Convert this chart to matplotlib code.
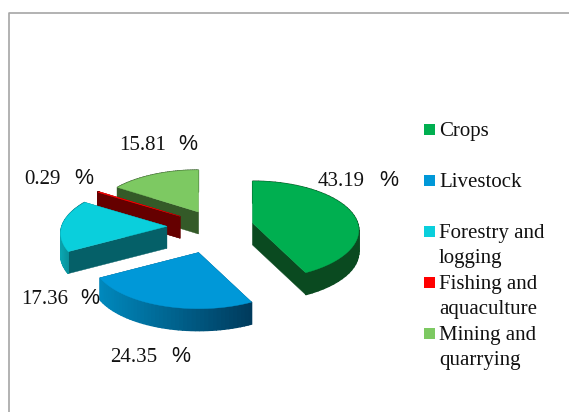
import numpy as np
import matplotlib
matplotlib.use("Agg")
import matplotlib.pyplot as plt
from matplotlib.patches import Polygon, Rectangle

# Data
categories = ["Crops", "Livestock", "Forestry and\nlogging", "Fishing and\naquaculture", "Mining and\nquarrying"]
values = [43.19, 24.35, 17.36, 0.29, 15.81]
explode = [0.37, 0.48, 0.47, 0.44, 0.40]

# Style
top_colors = ["#00AF50", "#0098D8", "#0ACFDC", "#FF0000", "#7DC962"]
edge_colors = ["#0A4A20", "#00507A", "#056068", "#650000", "#345A28"]
wall_left = ["#0A4A20", "#0088BC", "#0AA5B0", "#650000", "#345A28"]
wall_right = ["#0A4A20", "#003A5C", "#056068", "#650000", "#345A28"]
legend_y = [129, 180, 231, 282, 333]
label_pos = [(318, 181, 379), (110, 357, 171), (21, 299, 80), (24, 179, 74), (119, 145, 178)]

W, H = 569, 412
CX, CY = 216, 227
RX, RY, PERSP = 105, 48, 0.145
DEPTH = 22
SERIF = "Liberation Serif"
SANS = "Liberation Sans"


def proj(theta):
    """Clockwise angle from 12 o'clock to an offset on the tilted pie."""
    v = -np.cos(theta)
    s = 1 / (1 - PERSP * v)
    return RX * np.sin(theta) * s, RY * v * s


def mix(a, b, t):
    ca, cb = np.array(matplotlib.colors.to_rgb(a)), np.array(matplotlib.colors.to_rgb(b))
    return tuple(ca + (cb - ca) * t)


fig = plt.figure(figsize=(W / 100, H / 100), dpi=100)
ax = fig.add_axes([0, 0, 1, 1])
ax.set_xlim(0, W)
ax.set_ylim(H, 0)
ax.axis("off")

# Chart frame: top and left borders only are visible in the crop
ax.plot([9.5, 9.5, W], [H, 12.5, 12.5], color="#A6A6A6", lw=1.2, solid_capstyle="butt")

fractions = np.array(values) / np.sum(values)
bounds = np.concatenate([[0], np.cumsum(fractions)]) * 2 * np.pi

order = [4, 3, 0, 2, 1]
for i in order:
    a0, a1 = bounds[i], bounds[i + 1]
    mid = (a0 + a1) / 2
    mx, my = proj(mid)
    ax0, ay0 = CX + explode[i] * mx, CY + explode[i] * my
    th = np.linspace(a0, a1, 45)
    pts = np.array([proj(t) for t in th]) + [ax0, ay0]
    z = 2 + order.index(i) * 3
    # radial walls
    for p in (pts[0], pts[-1]):
        ax.add_patch(Polygon([(ax0, ay0), p, p + [0, DEPTH], (ax0, ay0 + DEPTH)],
                             fc=edge_colors[i], ec=edge_colors[i], lw=0.3, zorder=z))
    # outer wall, shaded left to right; segments overlap so no seams show
    xmin, xmax = pts[:, 0].min(), pts[:, 0].max()
    for j in range(len(pts) - 1):
        t = ((pts[j, 0] + pts[j + 1, 0]) / 2 - xmin) / max(xmax - xmin, 1)
        col = mix(wall_left[i], wall_right[i], t)
        ax.add_patch(Polygon([pts[j], pts[j + 1], pts[j + 1] + [0, DEPTH], pts[j] + [0, DEPTH]],
                             fc=col, ec=col, lw=1.0, zorder=z))
    # top surface
    ax.add_patch(Polygon(np.vstack([[ax0, ay0], pts]), fc=top_colors[i], ec=top_colors[i],
                         lw=0.3, zorder=z + 1))

# Data labels
for v, (xt, yt, xp) in zip(values, label_pos):
    ax.text(xt, yt, f"{v:.2f}", family=SERIF, fontsize=15, color="#111111", ha="left", va="center", zorder=30)
    ax.text(xp, yt - 1, "%", family=SANS, fontsize=15.5, color="#111111", ha="left", va="center", zorder=30)

# Legend
for name, col, y in zip(categories, top_colors, legend_y):
    ax.add_patch(Rectangle((424, y - 5.5), 11, 11, fc=col, ec="none", zorder=30))
    lines = name.split("\n")
    for k, line in enumerate(lines):
        ax.text(439, y + 2.5 + 25 * k, line, family=SERIF, fontsize=15, color="#111111",
                ha="left", va="center", zorder=30)

fig.savefig("out.png", dpi=100)
